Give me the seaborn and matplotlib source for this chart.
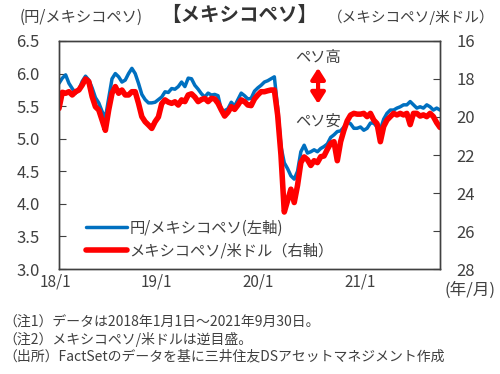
import matplotlib

matplotlib.use("Agg")
import matplotlib.pyplot as plt
import matplotlib.transforms as mtransforms
import numpy as np
import pandas as pd
import seaborn as sns
from matplotlib.patches import FancyArrowPatch

# yen per peso (left axis)
jpy_mxn = [
    5.85, 5.93, 5.98, 5.85, 5.77, 5.70, 5.75, 5.88, 5.96, 5.90,
    5.78, 5.63, 5.55, 5.42, 5.32, 5.62, 5.92, 6.00, 5.95, 5.87,
    5.90, 6.00, 6.08, 6.00, 5.85, 5.68, 5.60, 5.55, 5.55, 5.56,
    5.60,
    5.64, 5.72, 5.71, 5.77, 5.76, 5.80, 5.87, 5.80, 5.93, 5.92,
    5.82, 5.76, 5.69, 5.64, 5.70, 5.67, 5.68, 5.66, 5.44, 5.43,
    5.46, 5.56, 5.50, 5.60, 5.70, 5.66, 5.61, 5.62, 5.73, 5.78,
    5.82,
    5.87, 5.89, 5.92, 5.95, 5.47, 4.88, 4.63, 4.54, 4.43, 4.38,
    4.50, 4.80, 4.90, 4.78, 4.80, 4.83, 4.80, 4.85, 4.88, 4.92,
    5.02, 5.06, 5.11, 5.12, 5.18, 5.26, 5.23, 5.16, 5.16, 5.18,
    5.13,
    5.16, 5.24, 5.24, 5.18, 5.14, 5.30, 5.39, 5.44, 5.44, 5.47,
    5.49, 5.52, 5.52, 5.57, 5.52, 5.47, 5.49, 5.47, 5.52, 5.49,
    5.44, 5.47, 5.44,
]

# peso per dollar (right axis, inverted)
mxn_usd = [
    19.55, 18.70, 18.75, 18.67, 18.84, 18.67, 18.58, 18.32, 18.00, 18.14,
    18.93, 19.46, 19.63, 20.16, 20.70, 19.63, 18.75, 18.40, 18.75, 18.58,
    18.84, 18.84, 18.67, 18.67, 19.28, 19.98, 20.25, 20.42, 20.60, 20.25,
    20.00,
    19.30, 19.10, 19.22, 19.28, 19.20, 19.37, 19.10, 19.19, 18.84, 18.78,
    18.95, 19.19, 19.08, 19.02, 19.19, 19.02, 19.05, 19.28, 19.63, 19.95,
    19.75, 19.46, 19.60, 19.37, 19.10, 19.19, 19.37, 19.40, 19.05, 18.84,
    18.67,
    18.67, 18.62, 18.58, 18.58, 19.90, 22.00, 25.00, 24.40, 23.80, 24.50,
    23.60, 22.40, 22.10, 22.25, 22.55, 22.30, 22.40, 22.09, 22.05, 21.70,
    21.39, 21.30, 22.30, 21.30, 20.70, 20.20, 19.90, 19.81, 19.85, 19.85,
    19.81, 19.98, 19.81, 20.16, 20.35, 21.30, 20.50, 20.16, 19.98, 19.81,
    19.89, 19.81, 19.89, 19.81, 20.40, 19.81, 19.81, 19.95, 19.89, 19.98,
    19.81, 19.98, 20.30, 20.55,
]

dates = pd.date_range("2018-01-01", "2021-09-30", periods=len(jpy_mxn))
year_ticks = ["2018-01-01", "2019-01-01", "2020-01-01", "2021-01-01"]
year_labels = ["18/1", "19/1", "20/1", "21/1"]
left_ticks = [3.0, 3.5, 4.0, 4.5, 5.0, 5.5, 6.0, 6.5]
right_ticks = [16, 18, 20, 22, 24, 26, 28]

df = pd.DataFrame({"date": dates, "jpy": jpy_mxn, "mxn": mxn_usd})

sns.set_style("white")
plt.rcParams["font.family"] = ["Noto Sans CJK JP", "DejaVu Sans"]

TXT = "#404040"
BLUE = "#0070C0"
RED = "#FF0000"

fig = plt.figure(figsize=(5.0, 3.74), dpi=100)
ax = fig.add_axes([0.118, 0.2807, 0.762, 0.6097])
ax2 = ax.twinx()

sns.lineplot(data=df, x="date", y="jpy", ax=ax, color=BLUE, linewidth=2.5,
             label="円/メキシコペソ(左軸)", legend=False)
sns.lineplot(data=df, x="date", y="mxn", ax=ax2, color=RED, linewidth=4.0,
             label="メキシコペソ/米ドル（右軸）", legend=False)

ax.set_xlim(pd.Timestamp("2018-01-01"), pd.Timestamp("2021-09-30"))
ax.set_ylim(3.0, 6.5)
ax.set_yticks(left_ticks)
ax.set_yticklabels([f"{v:.1f}" for v in left_ticks])
ax2.set_ylim(28, 16)
ax2.set_yticks(right_ticks)
ax.set_xticks(pd.to_datetime(year_ticks))
ax.set_xticklabels(year_labels)
ax.set_xlabel("")
ax.set_ylabel("")
ax2.set_ylabel("")

ax.tick_params(axis="y", direction="in", length=5, color=TXT, labelsize=12,
               labelcolor=TXT, pad=14)
ax.tick_params(axis="x", direction="in", length=5, color=TXT, labelsize=11,
               labelcolor=TXT, pad=3)
ax2.tick_params(axis="y", direction="in", length=5, color=TXT, labelsize=12,
                labelcolor=TXT, pad=12)
# x labels sit slightly left of their ticks in the original
shift = mtransforms.ScaledTranslation(-4 / 100, 0, fig.dpi_scale_trans)
for lab in ax.get_xticklabels():
    lab.set_transform(lab.get_transform() + shift)
for a in (ax, ax2):
    for s in a.spines.values():
        s.set_color(TXT)
        s.set_linewidth(1.0)

# legend from both axes, no frame
h1, l1 = ax.get_legend_handles_labels()
h2, l2 = ax2.get_legend_handles_labels()
ax2.legend(h1 + h2, l1 + l2, loc="lower left", bbox_to_anchor=(0.035, -0.02),
           frameon=False, fontsize=11, handlelength=2.7, handletextpad=0.15,
           labelspacing=0.4, labelcolor=TXT)

# peso strong / weak arrow
arrow = FancyArrowPatch((0.68, 0.724), (0.68, 0.882), transform=ax2.transAxes,
                        arrowstyle="<|-|>,head_length=0.55,head_width=0.35",
                        mutation_scale=12, color=RED, lw=3, shrinkA=0,
                        shrinkB=0)
ax2.add_patch(arrow)
ax2.text(0.68, 0.926, "ペソ高", transform=ax2.transAxes, ha="center",
         va="center", fontsize=11, color=TXT)
ax2.text(0.68, 0.65, "ペソ安", transform=ax2.transAxes, ha="center",
         va="center", fontsize=11, color=TXT)

fig.text(0.478, 0.958, "【メキシコペソ】", ha="center", va="center",
         fontsize=14, fontweight="bold", color="#333333")
fig.text(0.04, 0.955, "(円/メキシコペソ)", ha="left", va="center",
         fontsize=11, color=TXT)
fig.text(0.99, 0.955, "（メキシコペソ/米ドル）", ha="right", va="center",
         fontsize=10.5, color=TXT)
fig.text(0.99, 0.225, "(年/月)", ha="right", va="center", fontsize=12,
         color=TXT)

notes = [
    "（注1）データは2018年1月1日～2021年9月30日。",
    "（注2）メキシコペソ/米ドルは逆目盛。",
    "（出所）FactSetのデータを基に三井住友DSアセットマネジメント作成",
]
for i, n in enumerate(notes):
    fig.text(0.006, 0.14 - i * 0.047, n, ha="left", va="center",
             fontsize=10, color=TXT)

fig.savefig("out.png", dpi=100)
